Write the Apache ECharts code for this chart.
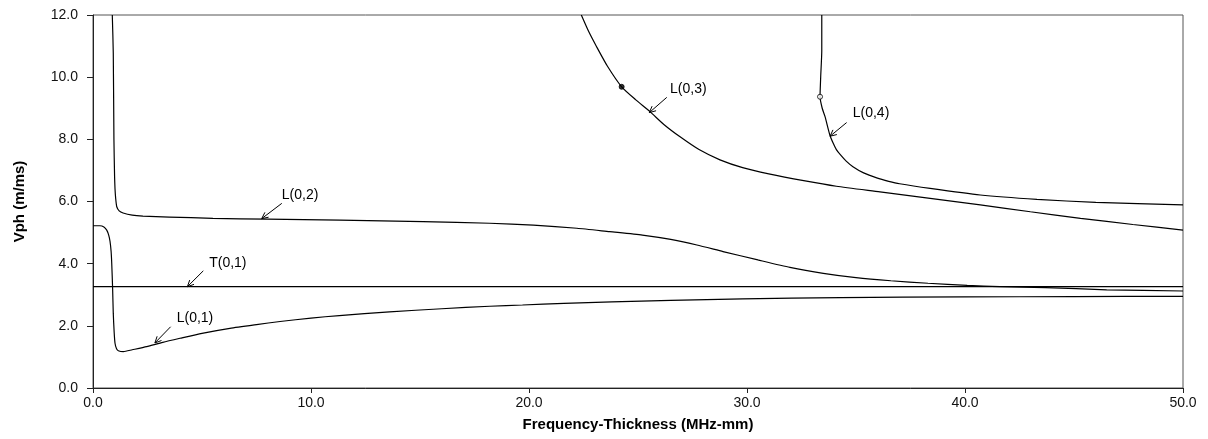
<!DOCTYPE html>
<html>
<head>
<meta charset="utf-8">
<title>Dispersion curves</title>
<script src="https://cdn.jsdelivr.net/npm/echarts@6/dist/echarts.min.js"></script>
<style>
  html, body { margin: 0; padding: 0; background: #fff; }
  #chart { width: 1208px; height: 439px; }
</style>
</head>
<body>
<div id="chart"></div>
<script>
// Phase velocity dispersion curves, [frequency-thickness (MHz-mm), Vph (m/ms)]
const L01 = [
  [0, 5.22], [0.32, 5.22], [0.5, 5.18], [0.63, 5.08], [0.72, 4.92], [0.78, 4.72],
  [0.83, 4.4], [0.86, 4.0], [0.9, 3.2], [0.93, 2.4], [0.97, 1.8], [1.01, 1.44],
  [1.08, 1.26], [1.16, 1.2], [1.39, 1.17], [1.8, 1.23], [2.46, 1.33], [3.2, 1.47],
  [3.99, 1.6], [5.0, 1.76], [6.28, 1.92], [7.5, 2.04], [8.58, 2.14], [10.0, 2.25],
  [11.3, 2.33], [13.6, 2.45], [16, 2.55], [18.2, 2.63], [19.7, 2.67], [21.6, 2.72],
  [23.8, 2.77], [26.5, 2.82], [29.8, 2.87], [34.3, 2.91], [40, 2.93], [45, 2.94], [50, 2.95]
];
const L02 = [
  [0.885, 12], [0.93, 10.78], [0.96, 8.0], [0.99, 6.8], [1.01, 6.4], [1.04, 6.1],
  [1.09, 5.83], [1.2, 5.7], [1.38, 5.63], [1.8, 5.56], [2.29, 5.53], [3.5, 5.5],
  [5.5, 5.46], [8, 5.43], [11.33, 5.4], [15.14, 5.35], [18.2, 5.3], [20.2, 5.24],
  [22.2, 5.14], [23.7, 5.03], [25.2, 4.92], [26.5, 4.78], [27.7, 4.6], [28.9, 4.39],
  [30.5, 4.12], [31.97, 3.88], [33.5, 3.69], [35.0, 3.55], [36.6, 3.45], [38.3, 3.37],
  [40.1, 3.3], [41.6, 3.26], [43.7, 3.23], [46.5, 3.16], [50, 3.12]
];
const L03 = [
  [22.4, 12], [22.75, 11.45], [23.1, 10.98], [23.6, 10.35], [24.25, 9.69], [24.9, 9.27],
  [25.55, 8.89], [26.2, 8.47], [26.93, 8.08], [27.8, 7.67], [28.76, 7.34], [29.8, 7.09],
  [31.0, 6.89], [32.6, 6.67], [34.1, 6.49], [36.1, 6.31], [38.4, 6.1], [40.7, 5.89],
  [43, 5.67], [45.3, 5.46], [47.7, 5.26], [50, 5.08]
];
const L04 = [
  [33.43, 12], [33.43, 10.86], [33.38, 10.0], [33.35, 9.37], [33.45, 9.0], [33.58, 8.73],
  [33.8, 8.14], [33.95, 7.88], [34.1, 7.67], [34.3, 7.49], [34.55, 7.3], [34.86, 7.12],
  [35.35, 6.92], [35.95, 6.76], [36.5, 6.65], [37.0, 6.57], [38.4, 6.42], [40.7, 6.21],
  [43.3, 6.07], [46.0, 5.97], [50, 5.89]
];
const T01 = [[0, 3.26], [50, 3.26]];

// Cut-off markers on the higher modes (filled on L(0,3), open on L(0,4))
const cutoffMarks = [[24.25, 9.69], [33.35, 9.37]];
const cutoffFill = ['#000', '#fff'];

// Mode labels: text anchor (left, middle), arrow tail, arrow tip
const modeNames = ['L(0,1)', 'T(0,1)', 'L(0,2)', 'L(0,3)', 'L(0,4)'];
const labelAt   = [[3.84, 2.24], [5.33, 4.02], [8.66, 6.21], [26.47, 9.63], [34.85, 8.84]];
const arrowFrom = [[3.56, 1.97], [5.06, 3.77], [8.66, 5.94], [26.32, 9.35], [34.57, 8.54]];
const arrowTo   = [[2.84, 1.45], [4.33, 3.26], [7.74, 5.45], [25.52, 8.86], [33.81, 8.1]];

// Axis tick labels
const xTickLabels = ['0.0', '10.0', '20.0', '30.0', '40.0', '50.0'];
const yTickLabels = ['0.0', '2.0', '4.0', '6.0', '8.0', '10.0', '12.0'];

const FONT = "'Liberation Sans', Arial, sans-serif";
const chart = echarts.init(document.getElementById('chart'), null, { renderer: 'canvas' });

function curve(name, data) {
  return {
    name, type: 'line', data, showSymbol: false, smooth: 0.2,
    lineStyle: { color: '#000', width: 1.2 }, z: 3, silent: true
  };
}

function renderLabel(params, api) {
  const i = api.value(2);
  const tip = api.coord(arrowTo[i]);
  const tail = api.coord(arrowFrom[i]);
  const txt = api.coord(labelAt[i]);
  const ang = Math.atan2(tail[1] - tip[1], tail[0] - tip[0]);
  const len = 7, spread = 0.45;
  const a1 = [tip[0] + len * Math.cos(ang + spread), tip[1] + len * Math.sin(ang + spread)];
  const a2 = [tip[0] + len * Math.cos(ang - spread), tip[1] + len * Math.sin(ang - spread)];
  return {
    type: 'group',
    children: [
      { type: 'line', shape: { x1: tail[0], y1: tail[1], x2: tip[0], y2: tip[1] },
        style: { stroke: '#000', lineWidth: 1 } },
      { type: 'polyline', shape: { points: [a1, tip, a2] },
        style: { stroke: '#000', lineWidth: 1, fill: null } },
      { type: 'text', x: txt[0], y: txt[1],
        style: { text: modeNames[i], fill: '#000', font: '14px ' + FONT,
                 align: 'left', verticalAlign: 'middle' } }
    ]
  };
}

chart.setOption({
  animation: false,
  backgroundColor: '#fff',
  grid: { left: 93, right: 25, top: 15, bottom: 51, show: true,
          borderColor: '#555', borderWidth: 1, backgroundColor: 'transparent' },
  xAxis: {
    type: 'value', min: 0, max: 50, interval: 10,
    name: 'Frequency-Thickness (MHz-mm)', nameLocation: 'middle', nameGap: 29,
    nameTextStyle: { fontFamily: FONT, fontSize: 15, fontWeight: 'bold', color: '#000' },
    axisLine: { show: true, onZero: false, lineStyle: { color: '#222', width: 1 } },
    axisTick: { show: true, length: 5, inside: false, lineStyle: { color: '#222' } },
    axisLabel: { fontFamily: FONT, fontSize: 14, color: '#111', margin: 8,
                 formatter: v => xTickLabels[Math.round(v / 10)] },
    splitLine: { show: false }
  },
  yAxis: {
    type: 'value', min: 0, max: 12, interval: 2,
    name: 'Vph (m/ms)', nameLocation: 'middle', nameGap: 66, nameRotate: 90,
    nameTextStyle: { fontFamily: FONT, fontSize: 15, fontWeight: 'bold', color: '#000' },
    axisLine: { show: true, onZero: false, lineStyle: { color: '#222', width: 1 } },
    axisTick: { show: true, length: 6, inside: false, lineStyle: { color: '#222' } },
    axisLabel: { fontFamily: FONT, fontSize: 14, color: '#111', margin: 15,
                 formatter: v => yTickLabels[Math.round(v / 2)] },
    splitLine: { show: false }
  },
  series: [
    curve('T(0,1)', T01),
    curve('L(0,1)', L01),
    curve('L(0,2)', L02),
    curve('L(0,3)', L03),
    curve('L(0,4)', L04),
    {
      name: 'cutoff', type: 'scatter', symbol: 'circle', symbolSize: 5, z: 4, silent: true,
      data: cutoffMarks.map((p, i) => ({
        value: p, itemStyle: { color: cutoffFill[i], borderColor: '#000', borderWidth: 1 }
      }))
    },
    {
      name: 'labels', type: 'custom', renderItem: renderLabel, clip: false, z: 5, silent: true,
      data: modeNames.map((n, i) => [arrowTo[i][0], arrowTo[i][1], i])
    }
  ]
});
</script>
</body>
</html>
